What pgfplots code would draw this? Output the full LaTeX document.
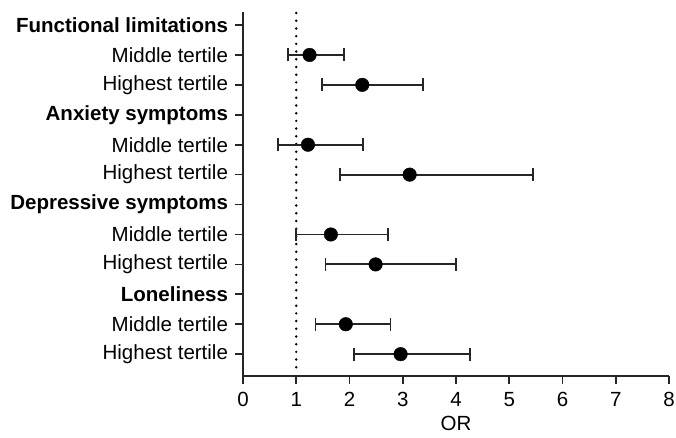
\documentclass[border=0pt]{standalone}
\usepackage{pgfplots}
\pgfplotsset{compat=1.18}
\usepackage{fontspec}
\setmainfont{Liberation Sans}
\begin{document}
\begin{tikzpicture}
\useasboundingbox (-243pt,-61pt) rectangle (433pt,376pt);
\begin{axis}[
  scale only axis,
  width=426pt, height=364pt,
  anchor=south west, at={(0pt,0pt)},
  xmin=0, xmax=8, ymin=0.565, ymax=12.73,
  y dir=reverse,
  axis x line*=bottom, axis y line*=left,
  axis line style={line width=1.7pt, black!85, -},
  tick style={line width=1.7pt, black!85},
  tick align=outside,
  major tick length=7.5pt,
  xtick={0,1,...,8},
  ytick={1,...,12},
  yticklabels={\textbf{Functional limitations},Middle tertile,Highest tertile,\textbf{Anxiety symptoms},Middle tertile,Highest tertile,\textbf{Depressive symptoms},Middle tertile,Highest tertile,\textbf{Loneliness},Middle tertile,Highest tertile},
  ticklabel style={font=\fontsize{20.5}{24}\selectfont},
  yticklabel style={xshift=-4pt},
  xticklabel style={yshift=-5pt},
  label style={font=\fontsize{20.5}{24}\selectfont},
  xlabel style={yshift=-5pt, inner sep=1pt},
  /pgf/number format/assume math mode=true,
  xlabel={OR},
  clip=false,
]
\addplot[line width=2.7pt, line cap=round, dash pattern=on 0pt off 7.7pt, black] coordinates {(1,0.6) (1,12.55)};
\addplot[
  only marks, mark=*, mark size=6.8pt, black,
  error bars/.cd, x dir=both, x explicit,
  error bar style={line width=1.8pt, black!85},
  error mark options={line width=1.8pt, mark size=6.5pt, black!85, rotate=90},
] table[x=or, y=y, x error plus=ep, x error minus=em] {
y or ep em
2 1.25 0.65 0.41
3 2.24 1.14 0.76
5 1.22 1.04 0.57
6 3.13 2.31 1.31
8 1.65 1.07 0.65
9 2.49 1.51 0.94
11 1.93 0.84 0.57
12 2.96 1.30 0.88
};
\end{axis}
\end{tikzpicture}
\end{document}
